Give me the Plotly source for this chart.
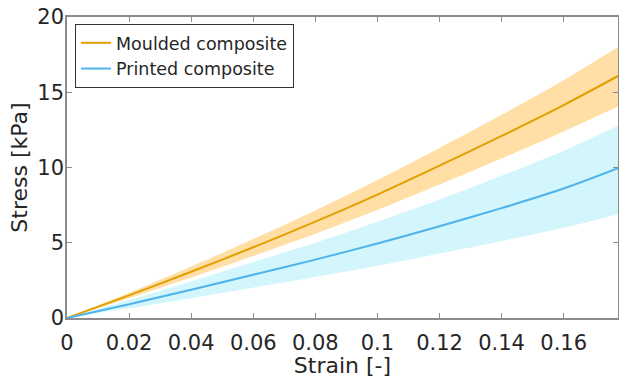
import plotly.graph_objects as go

strain = [0, 0.02, 0.04, 0.06, 0.08, 0.10, 0.12, 0.14, 0.16, 0.1775]
moulded_mean = [0, 1.5, 3.07, 4.70, 6.40, 8.2, 10.12, 12.1, 14.15, 16.08]
moulded_upper = [0, 1.67, 3.42, 5.25, 7.15, 9.17, 11.3, 13.5, 15.8, 18.0]
moulded_lower = [0, 1.31, 2.69, 4.12, 5.6, 7.18, 8.87, 10.6, 12.4, 14.05]
printed_mean = [0, 0.92, 1.88, 2.88, 3.88, 4.95, 6.1, 7.3, 8.6, 9.95]
printed_upper = [0, 1.19, 2.43, 3.72, 5.0, 6.4, 7.88, 9.45, 11.12, 12.78]
printed_lower = [0, 0.64, 1.31, 2.02, 2.72, 3.47, 4.28, 5.12, 6.0, 6.9]

x_tickvals = [0, 0.02, 0.04, 0.06, 0.08, 0.1, 0.12, 0.14, 0.16]
x_ticktext = ["0", "0.02", "0.04", "0.06", "0.08", "0.1", "0.12", "0.14", "0.16"]
y_tickvals = [0, 5, 10, 15, 20]
y_ticktext = ["0", "5", "10", "15", "20"]

ORANGE = "#E39F00"
ORANGE_BAND = "#FFDFA6"
BLUE = "#4DB3EA"
BLUE_BAND = "#D3F5FC"
TXT = "#262626"
AX = "#8c8c8c"
FONT = "DejaVu Sans"

fig = go.Figure()
band = dict(width=0, shape="spline", smoothing=0.8)
fig.add_trace(go.Scatter(x=strain, y=moulded_lower, mode="lines", line=band,
                         showlegend=False, hoverinfo="skip"))
fig.add_trace(go.Scatter(x=strain, y=moulded_upper, mode="lines", line=band,
                         fill="tonexty", fillcolor=ORANGE_BAND, showlegend=False, hoverinfo="skip"))
fig.add_trace(go.Scatter(x=strain, y=printed_lower, mode="lines", line=band,
                         showlegend=False, hoverinfo="skip"))
fig.add_trace(go.Scatter(x=strain, y=printed_upper, mode="lines", line=band,
                         fill="tonexty", fillcolor=BLUE_BAND, showlegend=False, hoverinfo="skip"))
fig.add_trace(go.Scatter(x=strain, y=moulded_mean, mode="lines", name="Moulded composite",
                         line=dict(color=ORANGE, width=2, shape="spline", smoothing=0.8)))
fig.add_trace(go.Scatter(x=strain, y=printed_mean, mode="lines", name="Printed composite",
                         line=dict(color=BLUE, width=2, shape="spline", smoothing=0.8)))

fig.update_layout(
    width=619, height=378,
    margin=dict(l=67, r=1, t=17, b=60, autoexpand=False),
    plot_bgcolor="white", paper_bgcolor="white",
    font=dict(family=FONT, color=TXT, size=20),
    showlegend=True,
    legend=dict(x=0.0145, y=0.977, xanchor="left", yanchor="top",
                bgcolor="white", bordercolor="#333333", borderwidth=1,
                font=dict(size=17.5, family=FONT, color=TXT),
                itemwidth=30, tracegroupgap=0, traceorder="normal"),
)
fig.update_xaxes(
    range=[0, 0.1775], tickvals=x_tickvals, ticktext=x_ticktext, automargin=False,
    showgrid=False, zeroline=False, showline=True, linecolor=AX, linewidth=1.5,
    mirror="ticks", ticks="inside", ticklen=5, tickcolor=AX,
    tickfont=dict(size=21, color=TXT), ticklabelstandoff=5,
    title=dict(text="Strain [-]", font=dict(size=22, color=TXT), standoff=0),
)
fig.update_yaxes(
    range=[0, 20], tickvals=y_tickvals, ticktext=y_ticktext, automargin=False,
    showgrid=False, zeroline=False, showline=True, linecolor=AX, linewidth=1.5,
    mirror="ticks", ticks="inside", ticklen=5, tickcolor=AX,
    tickfont=dict(size=21, color=TXT), ticklabelstandoff=-3,
    title=dict(text="Stress [kPa]", font=dict(size=22, color=TXT), standoff=4),
)

fig.write_html("out.html", config={"displayModeBar": False},
               post_script="document.body.style.margin='0';")
